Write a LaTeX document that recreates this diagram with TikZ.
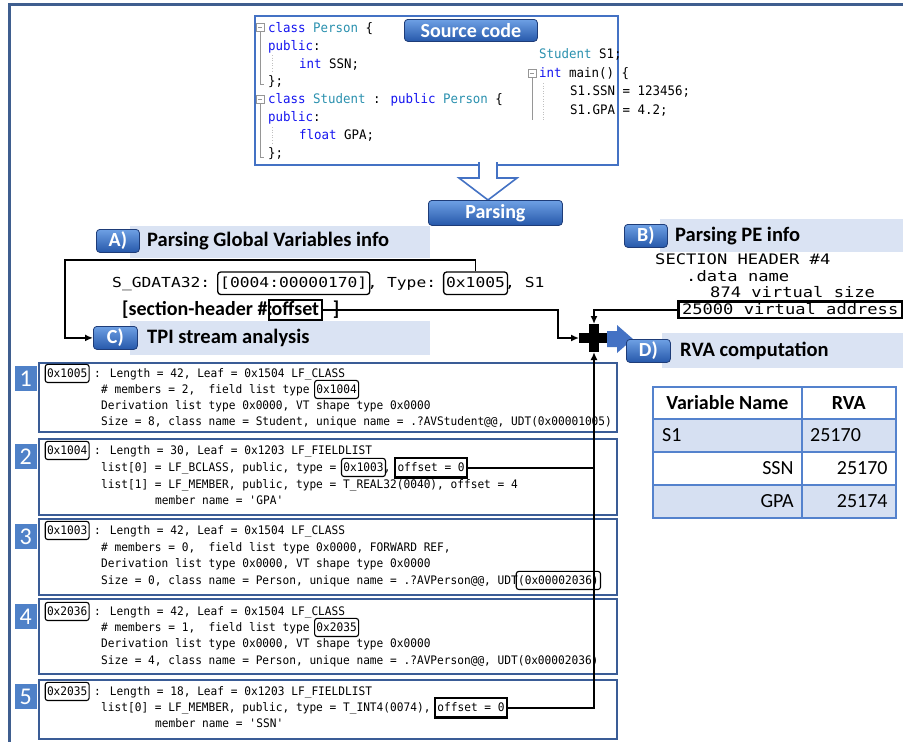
\documentclass[tikz,border=0pt]{standalone}
\usepackage{fontspec}
\setmainfont{Carlito}
\newfontfamily\codefont[FakeStretch=0.95]{DejaVu Sans Mono}
\newfontfamily\widemono[FakeStretch=1.18]{DejaVu Sans Mono}
\usetikzlibrary{arrows.meta}

\definecolor{frameblue}{RGB}{63,94,143}
\definecolor{srcblue}{RGB}{68,114,196}
\definecolor{tpiblue}{RGB}{58,92,150}
\definecolor{bandblue}{RGB}{218,227,243}
\definecolor{tblrow}{RGB}{214,224,242}
\definecolor{tblblue}{RGB}{84,130,205}
\definecolor{kwblue}{RGB}{20,20,240}
\definecolor{typeteal}{RGB}{43,145,175}
\definecolor{btntop}{RGB}{110,160,228}
\definecolor{btnbot}{RGB}{38,88,170}
\definecolor{btnedge}{RGB}{30,60,120}
\definecolor{numblue}{RGB}{79,129,200}
\definecolor{arrowblue}{RGB}{68,114,196}
\definecolor{outline}{RGB}{150,150,150}

\newcommand\setfs[1]{\fontsize{#1}{#1}\selectfont}
\newcommand\codekw[1]{\textcolor{kwblue}{#1}}
\newcommand\codety[1]{\textcolor{typeteal}{#1}}

\begin{document}
\begin{tikzpicture}[x=1pt,y=-1pt,
  btn/.style={draw=btnedge, line width=0.8pt, rounded corners=3.5pt,
    top color=btntop, bottom color=btnbot, text=white,
    font=\bfseries\setfs{20}, inner sep=0pt, anchor=north west},
  band/.style={fill=bandblue, draw=none, anchor=north west, inner sep=0pt},
  bandlabel/.style={font=\bfseries\setfs{20.5}, anchor=west, inner sep=0pt},
  code/.style={font=\codefont\setfs{13.1}, anchor=base west, inner sep=0pt},
  tpi/.style={font=\codefont\setfs{11.75}, anchor=base west, inner sep=0pt},
  tkey/.style={tpi, draw, line width=1.1pt, rounded corners=2.5pt,
    inner xsep=1.8pt, outer xsep=-1.8pt, inner ysep=4pt,
    text height=8.6pt, text depth=1.5pt},
  thl/.style={tpi, draw, line width=2.2pt, inner xsep=2.5pt, outer xsep=-2.5pt,
    inner ysep=4.5pt, text height=8.6pt, text depth=2pt},
  tpiframe/.style={draw=tpiblue, line width=2pt, anchor=north west, inner sep=0pt},
  numtag/.style={fill=numblue, text=white, font=\setfs{24}, anchor=north east,
    inner sep=0pt, minimum width=22pt, minimum height=25pt},
  gmono/.style={font=\widemono\setfs{13.8}, anchor=base west, inner sep=0pt},
  gkey/.style={gmono, draw, line width=1.3pt, rounded corners=3pt,
    inner xsep=2.5pt, outer xsep=-2.5pt, inner ysep=4.5pt,
    text height=10.5pt, text depth=3pt},
  sect/.style={font=\bfseries\setfs{20}, anchor=base west, inner sep=0pt},
  gbox/.style={sect, draw, line width=2.2pt, inner xsep=2.5pt, outer xsep=-2.5pt,
    inner ysep=3pt, text height=12pt, text depth=2pt},
  bmono/.style={font=\widemono\setfs{14.5}, anchor=base west, inner sep=0pt},
  vaboxed/.style={bmono, draw, line width=2.2pt, inner xsep=3.5pt, outer xsep=-3.5pt,
    inner ysep=2.5pt, text height=10pt, text depth=1.5pt},
  cell/.style={draw=tblblue, line width=1.8pt, anchor=north west, inner sep=0pt},
  tbh/.style={font=\bfseries\setfs{20}, inner sep=0pt},
  tbt/.style={font=\setfs{20}, inner sep=0pt},
  conn/.style={line width=1.6pt, black},
  arrowto/.style={-{Latex[length=8pt,width=7pt]}}
]
\useasboundingbox (0,0) rectangle (903,742);
\fill[white] (0,0) rectangle (903,742);

% outer frame (top and left edges)
\draw[frameblue, line width=3pt] (9,742) -- (9,4) -- (903,4);

% ---------------- source code panel ----------------
\node[draw=srcblue, line width=2pt, anchor=north west, minimum width=363pt,
      minimum height=149pt, inner sep=0pt] (src) at (254,15) {};

% outlining markers of the editor
\draw[outline, line width=0.6pt] (256,23) rectangle (264,31);
\draw[outline, line width=0.6pt] (258,27) -- (262,27);
\draw[outline, line width=0.6pt] (260,31) -- (260,84) -- (264,84);
\draw[outline, line width=0.6pt] (256,95) rectangle (264,103);
\draw[outline, line width=0.6pt] (258,99) -- (262,99);
\draw[outline, line width=0.6pt] (260,103) -- (260,157) -- (264,157);
\draw[outline, line width=0.6pt] (528,69) rectangle (536,77);
\draw[outline, line width=0.6pt] (530,73) -- (534,73);
\draw[outline, line width=0.6pt] (532,77) -- (532,120);
\draw[outline!60, line width=0.6pt, dotted] (272,55) -- (272,71);
\draw[outline!60, line width=0.6pt, dotted] (272,127) -- (272,143);
\draw[outline!60, line width=0.6pt, dotted] (543,83) -- (543,120);

\node[code] (c1) at (268,32) {\codekw{class} \codety{Person} \{};
\node[code] (c2) at (268,50) {\codekw{public}:};
\node[code] (c3) at (299,68) {\codekw{int} SSN;};
\node[code] (c4) at (268,85) {\};};
\node[code] (c5) at (268,103) {\codekw{class} \codety{Student} : \codekw{public} \codety{Person} \{};
\node[code] (c6) at (268,121) {\codekw{public}:};
\node[code] (c7) at (299,139) {\codekw{float} GPA;};
\node[code] (c8) at (268,157) {\};};
\node[code] (m1) at (539,58) {\codety{Student} S1;};
\node[code] (m2) at (539,77) {\codekw{int} main() \{};
\node[code] (m3) at (570,95) {S1.SSN = 123456;};
\node[code] (m4) at (570,114) {S1.GPA = 4.2;};

\node[btn, minimum width=133pt, minimum height=22pt] (srcbtn) at (404,19) {Source code};

% hollow arrow down to the parsing step
\filldraw[fill=white, draw=srcblue, line width=1.6pt]
  (479,162) -- (479,178) -- (459,178) -- (488,200) -- (517,178) -- (497,178) -- (497,162);
\node[btn, minimum width=134pt, minimum height=25pt] (parse) at (428,200) {Parsing};

% ---------------- section labels ----------------
\node[band, minimum width=300pt, minimum height=32pt] (bandA) at (130,226) {};
\node[btn, minimum width=43pt, minimum height=23pt] (abtn) at (96,229) {A)};
\node[bandlabel] (alab) at (147,241) {Parsing Global Variables info};

\node[band, minimum width=243pt, minimum height=33pt] (bandB) at (660,219) {};
\node[btn, minimum width=43pt, minimum height=23pt] (bbtn) at (624,224) {B)};
\node[bandlabel] (blab) at (675,236) {Parsing PE info};

\node[band, minimum width=300pt, minimum height=34pt] (bandC) at (130,321) {};
\node[btn, minimum width=44pt, minimum height=23pt] (cbtn) at (93,326) {C)};
\node[bandlabel] (clab) at (147,338) {TPI stream analysis};

% ---------------- global variable record ----------------
\node[gmono] (g1) at (112,287) {S\_GDATA32:\ \mbox{}};
\node[gkey] (gsec) at (g1.base east) {[0004:00000170]};
\node[gmono] (g2) at (gsec.base east) {,\ Type:\ \mbox{}};
\node[gkey] (gtype) at (g2.base east) {0x1005};
\node[gmono] (g3) at (gtype.base east) {,\ S1};

\node[sect] (s1) at (122,315) {[section-header \#:};
\node[gbox] (goff) at ([xshift=-1.5pt]s1.base east) {offset};
\node[sect] (s2) at (goff.base east) {\ \ \ ]};

% ---------------- PE section header ----------------
\node[bmono] (pe1) at (655,264) {SECTION HEADER \#4};
\node[bmono] (pe2) at (686,281) {.data name};
\node[bmono] (pe3) at (710,297) {874 virtual size};
\node[vaboxed] (va) at (682,314) {25000 virtual address};

% ---------------- TPI records ----------------
\node[tpiframe, minimum width=578pt, minimum height=69pt] (box1) at (38,362) {};
\node[tpiframe, minimum width=578pt, minimum height=76pt] (box2) at (38,438) {};
\node[tpiframe, minimum width=578pt, minimum height=76pt] (box3) at (38,518) {};
\node[tpiframe, minimum width=578pt, minimum height=75pt] (box4) at (38,598) {};
\node[tpiframe, minimum width=578pt, minimum height=59pt] (box5) at (38,679) {};

\node[numtag] (n1) at (37,366) {1};
\node[numtag] (n2) at (37,444) {2};
\node[numtag] (n3) at (37,524) {3};
\node[numtag] (n4) at (37,604) {4};
\node[numtag] (n5) at (37,684) {5};

% record 1
\node[tkey] (k1) at (47,377) {0x1005};
\node[tpi] (b1l1) at (k1.base east) {\ : Length = 42, Leaf = 0x1504 LF\_CLASS};
\node[tpi] (b1l2) at (101,393) {\# members = 2,\ \ field list type\ \mbox{}};
\node[tkey] (f1) at (b1l2.base east) {0x1004};
\node[tpi] (b1l3) at (101,409) {Derivation list type 0x0000, VT shape type 0x0000};
\node[tpi] (b1l4) at (101,425) {Size = 8, class name = Student, unique name = .?AVStudent@@, UDT(0x00001005)};

% record 2
\node[tkey] (k2) at (47,454) {0x1004};
\node[tpi] (b2l1) at (k2.base east) {\ : Length = 30, Leaf = 0x1203 LF\_FIELDLIST};
\node[tpi] (b2l2) at (101,471) {list[0] = LF\_BCLASS, public, type =\ \mbox{}};
\node[tkey] (t2) at (b2l2.base east) {0x1003};
\node[tpi] (b2l2b) at (t2.base east) {,\ \mbox{}};
\node[thl] (o2) at (b2l2b.base east) {offset = 0};
\node[tpi] (b2l3) at (101,488) {list[1] = LF\_MEMBER, public, type = T\_REAL32(0040), offset = 4};
\node[tpi] (b2l4) at (155,504) {member name = \textquotesingle GPA\textquotesingle};

% record 3
\node[tkey] (k3) at (47,534) {0x1003};
\node[tpi] (b3l1) at (k3.base east) {\ : Length = 42, Leaf = 0x1504 LF\_CLASS};
\node[tpi] (b3l2) at (101,551) {\# members = 0,\ \ field list type 0x0000, FORWARD REF,};
\node[tpi] (b3l3) at (101,567) {Derivation list type 0x0000, VT shape type 0x0000};
\node[tpi] (b3l4) at (101,584) {Size = 0, class name = Person, unique name = .?AVPerson@@, UDT};
\node[tkey] (u3) at (b3l4.base east) {(0x00002036)};

% record 4
\node[tkey] (k4) at (47,615) {0x2036};
\node[tpi] (b4l1) at (k4.base east) {\ : Length = 42, Leaf = 0x1504 LF\_CLASS};
\node[tpi] (b4l2) at (101,631) {\# members = 1,\ \ field list type\ \mbox{}};
\node[tkey] (f4) at (b4l2.base east) {0x2035};
\node[tpi] (b4l3) at (101,647) {Derivation list type 0x0000, VT shape type 0x0000};
\node[tpi] (b4l4) at (101,664) {Size = 4, class name = Person, unique name = .?AVPerson@@, UDT(0x00002036)};

% record 5
\node[tkey] (k5) at (47,695) {0x2035};
\node[tpi] (b5l1) at (k5.base east) {\ : Length = 18, Leaf = 0x1203 LF\_FIELDLIST};
\node[tpi] (b5l2) at (101,711) {list[0] = LF\_MEMBER, public, type = T\_INT4(0074),\ \mbox{}};
\node[thl] (o5) at (b5l2.base east) {offset = 0};
\node[tpi] (b5l3) at (155,727) {member name = \textquotesingle SSN\textquotesingle};

% ---------------- RVA junction ----------------
\fill[black] (579,333) rectangle (609,343);
\fill[black] (589,324) rectangle (599,352);
\coordinate (xtop) at (594,324);
\coordinate (xleft) at (579,338);
\coordinate (xbot) at (594,352);
\coordinate (obend) at (558,338);
\coordinate (loopy) at (0,260);
\coordinate (loopx) at (65,260);

\draw[conn, arrowto] (gtype.north) -- (gtype.north |- loopy) -- (loopx) |- (cbtn.west);
\draw[conn, arrowto] ([xshift=2.5pt]goff.east) -| (obend) -- (xleft);
\draw[conn, arrowto] ([xshift=-3.5pt]va.west) -| (xtop);
\draw[conn] ([xshift=2.5pt]o2.east) -- (o2.east -| xbot);
\draw[conn, arrowto] ([xshift=2.5pt]o5.east) -| (xbot);

% block arrow to the RVA step
\fill[arrowblue] (607,331) -- (617,331) -- (617,325) -- (633,339) -- (617,353) -- (617,347) -- (607,347) -- cycle;

\node[band, minimum width=241pt, minimum height=35pt] (bandD) at (662,333) {};
\node[btn, minimum width=44pt, minimum height=23pt] (dbtn) at (626,339) {D)};
\node[bandlabel] (dlab) at (680,351) {RVA computation};

% ---------------- RVA table ----------------
\node[cell, fill=white, minimum width=149pt, minimum height=32pt] (th1) at (652,386) {};
\node[cell, fill=white, minimum width=94pt, minimum height=32pt] (th2) at (801,386) {};
\node[cell, fill=tblrow, minimum width=149pt, minimum height=33pt] (ta1) at (652,418) {};
\node[cell, fill=tblrow, minimum width=94pt, minimum height=33pt] (ta2) at (801,418) {};
\node[cell, fill=white, minimum width=149pt, minimum height=33pt] (tb1) at (652,451) {};
\node[cell, fill=white, minimum width=94pt, minimum height=33pt] (tb2) at (801,451) {};
\node[cell, fill=tblrow, minimum width=149pt, minimum height=33pt] (tc1) at (652,484) {};
\node[cell, fill=tblrow, minimum width=94pt, minimum height=33pt] (tc2) at (801,484) {};

\node[tbh] (hv) at (th1.center) {Variable Name};
\node[tbh] (hr) at (th2.center) {RVA};
\node[tbt, anchor=west] (s1n) at ([xshift=10pt]ta1.west) {S1};
\node[tbt, anchor=west] (s1v) at ([xshift=9pt]ta2.west) {25170};
\node[tbt, anchor=east] (ssnn) at ([xshift=-9pt]tb1.east) {SSN};
\node[tbt, anchor=east] (ssnv) at ([xshift=-9pt]tb2.east) {25170};
\node[tbt, anchor=east] (gpan) at ([xshift=-9pt]tc1.east) {GPA};
\node[tbt, anchor=east] (gpav) at ([xshift=-9pt]tc2.east) {25174};
\end{tikzpicture}
\end{document}
